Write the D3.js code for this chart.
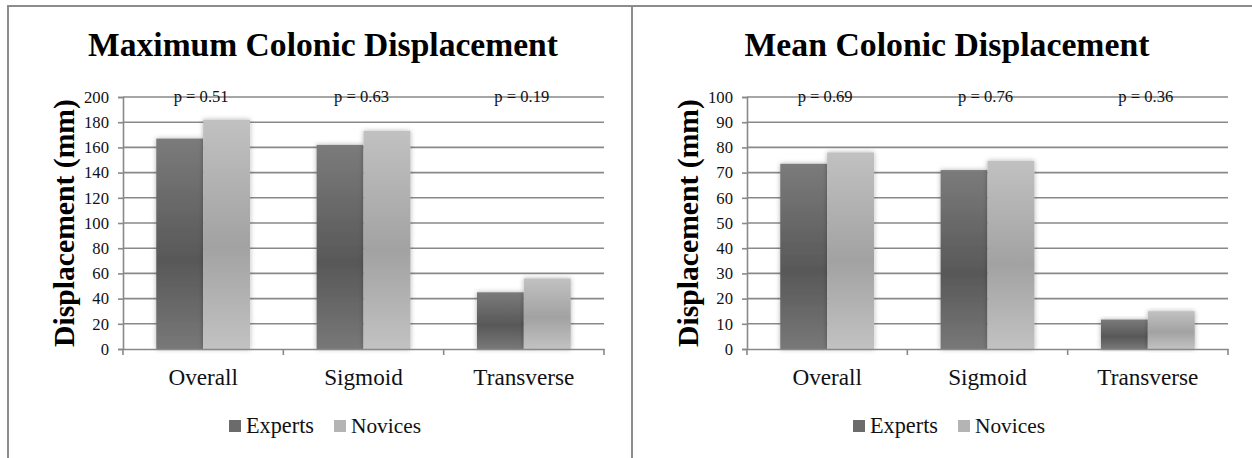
<!DOCTYPE html>
<html><head><meta charset="utf-8">
<script src="https://cdn.jsdelivr.net/npm/d3@7"></script>
<style>body{margin:0;background:#fff} svg{display:block}</style>
</head><body><svg id="c" width="1252" height="458"></svg>
<script>
// ---- data ----
const categories = ["Overall", "Sigmoid", "Transverse"];
const seriesNames = ["Experts", "Novices"];
const maxExperts = [167, 162, 45];
const maxNovices = [182, 173, 56];
const meanExperts = [73.5, 71, 11.7];
const meanNovices = [78, 74.7, 15];
const maxTicks = [0, 20, 40, 60, 80, 100, 120, 140, 160, 180, 200];
const meanTicks = [0, 10, 20, 30, 40, 50, 60, 70, 80, 90, 100];
const maxPValues = ["p = 0.51", "p = 0.63", "p = 0.19"];
const meanPValues = ["p = 0.69", "p = 0.76", "p = 0.36"];
const titles = ["Maximum Colonic Displacement", "Mean Colonic Displacement"];
const yTitle = "Displacement (mm)";

const FONT = "'Liberation Serif', 'DejaVu Serif', serif";
const svg = d3.select("#c");
const defs = svg.append("defs");

function grad(id, stops) {
  const g = defs.append("linearGradient").attr("id", id)
    .attr("x1", 0).attr("y1", 0).attr("x2", 0).attr("y2", 1);
  stops.forEach(s => g.append("stop").attr("offset", s[0]).attr("stop-color", s[1]));
}
grad("gExp", [[0, "#7b7b7b"], [0.58, "#585858"], [1, "#787878"]]);
grad("gNov", [[0, "#c1c1c1"], [0.55, "#a2a2a2"], [1, "#c2c2c2"]]);
const fills = ["url(#gExp)", "url(#gNov)"];
const legendFills = ["#6b6b6b", "#b4b4b4"];

const f = defs.append("filter").attr("id", "sh")
  .attr("x", "-30%").attr("y", "-10%").attr("width", "160%").attr("height", "120%");
f.append("feDropShadow").attr("dx", 0).attr("dy", 0).attr("stdDeviation", 2.5)
  .attr("flood-color", "#000").attr("flood-opacity", 0.3);

function fit(sel, target) {
  const w = sel.node().getComputedTextLength();
  const fs = parseFloat(sel.attr("font-size"));
  sel.attr("font-size", (fs * target / w).toFixed(2));
}

// panel borders
svg.append("path")
  .attr("d", "M8,458 L8,6 L1252,6 M632,6 L632,458")
  .attr("fill", "none").attr("stroke", "#8c8c8c").attr("stroke-width", 2);

function drawChart(px, title, exp, nov, ticks, pvals) {
  const x0 = px + 115, x1 = px + 596, yTop = 97, yBot = 349;
  const g = svg.append("g");
  const y = d3.scaleLinear().domain([ticks[0], ticks[ticks.length - 1]]).range([yBot, yTop]);
  const xc = d3.scaleBand().domain(categories).range([x0, x1]).padding(0);
  const groupW = xc.bandwidth() * 0.585;
  const xs = d3.scaleBand().domain(seriesNames).range([0, groupW]).padding(0);

  // gridlines
  g.selectAll(".grid").data(ticks.slice(1)).join("line")
    .attr("x1", x0).attr("x2", x1).attr("y1", d => y(d)).attr("y2", d => y(d))
    .attr("stroke", "#898989").attr("stroke-width", 1.6);

  // bars
  const rows = categories.map((c, i) => ({ c, vals: [exp[i], nov[i]] }));
  const cg = g.selectAll(".cat").data(rows).join("g")
    .attr("transform", d => `translate(${xc(d.c) + (xc.bandwidth() - groupW) / 2},0)`);
  cg.selectAll("rect").data(d => d.vals.map((v, j) => ({ v, s: seriesNames[j], j }))).join("rect")
    .attr("x", d => xs(d.s)).attr("width", xs.bandwidth())
    .attr("y", d => y(d.v)).attr("height", d => yBot - y(d.v))
    .attr("fill", d => fills[d.j]).attr("filter", "url(#sh)");

  // y axis
  const ya = d3.axisLeft(y).tickValues(ticks).tickSize(5).tickPadding(9);
  const yg = g.append("g").attr("transform", `translate(${x0},0)`).call(ya);
  yg.select(".domain").attr("stroke", "#898989").attr("stroke-width", 1.6);
  yg.selectAll(".tick line").attr("stroke", "#898989").attr("stroke-width", 1.6);
  const tt = yg.selectAll(".tick text").attr("font-family", FONT).attr("font-size", 15).attr("fill", "#111");
  const top = yg.selectAll(".tick text").filter(d => d === ticks[ticks.length - 1]);
  fit(top, 25);
  tt.attr("font-size", top.attr("font-size"));

  // x axis
  const xa = d3.axisBottom(xc).tickSize(0).tickPadding(0).tickFormat("");
  const xg = g.append("g").attr("transform", `translate(0,${yBot})`).call(xa);
  xg.select(".domain").attr("stroke", "#898989").attr("stroke-width", 1.6);
  const bounds = categories.map(c => xc(c)).concat([x1]);
  g.selectAll(".xt").data(bounds).join("line")
    .attr("x1", d => d).attr("x2", d => d).attr("y1", yBot).attr("y2", yBot + 6)
    .attr("stroke", "#898989").attr("stroke-width", 1.6);

  const catLabels = g.selectAll(".cl").data(categories).join("text")
    .attr("x", d => xc(d) + xc.bandwidth() / 2).attr("y", 385)
    .attr("text-anchor", "middle").attr("font-family", FONT).attr("font-size", 18)
    .attr("fill", "#111").text(d => d);
  const tv = catLabels.filter(d => d === "Transverse");
  fit(tv, 101);
  catLabels.attr("font-size", tv.attr("font-size"));

  // p-values
  const pl = g.selectAll(".pv").data(pvals).join("text")
    .attr("x", (d, i) => xc(categories[i]) + xc.bandwidth() / 2 - 2).attr("y", 102)
    .attr("text-anchor", "middle").attr("font-family", FONT).attr("font-size", 14)
    .attr("fill", "#111").text(d => d);
  fit(pl.filter((d, i) => i === 0), 55);
  pl.attr("font-size", pl.filter((d, i) => i === 0).attr("font-size"));

  // title
  const t = g.append("text").attr("x", px + 315).attr("y", 56)
    .attr("text-anchor", "middle").attr("font-family", FONT).attr("font-weight", "bold")
    .attr("font-size", 30).attr("fill", "#000").text(title);
  fit(t, title.length > 26 ? 470 : 405);

  // y title
  const yt = g.append("text")
    .attr("transform", `translate(${px + 66},223) rotate(-90)`)
    .attr("text-anchor", "middle").attr("font-family", FONT).attr("font-weight", "bold")
    .attr("font-size", 26).attr("fill", "#000").text(yTitle);
  fit(yt, 248);

  // legend
  const lg = g.append("g");
  const lx = [px + 221, px + 326];
  seriesNames.forEach((s, i) => {
    lg.append("rect").attr("x", lx[i]).attr("y", 420).attr("width", 12).attr("height", 12)
      .attr("fill", legendFills[i]);
    const lt = lg.append("text").attr("x", lx[i] + 17).attr("y", 433)
      .attr("font-family", FONT).attr("font-size", 18).attr("fill", "#111").text(s);
    fit(lt, i === 0 ? 68 : 70);
  });
}

drawChart(8, titles[0], maxExperts, maxNovices, maxTicks, maxPValues);
drawChart(632, titles[1], meanExperts, meanNovices, meanTicks, meanPValues);
</script></body></html>
